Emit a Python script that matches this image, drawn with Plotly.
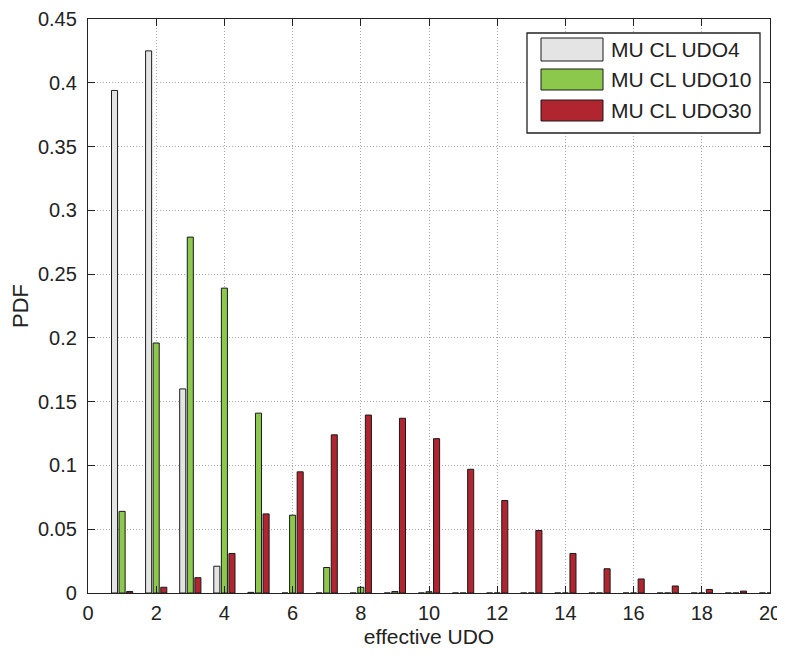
import plotly.graph_objects as go

udo = list(range(1, 21))
series_names = ["MU CL UDO4", "MU CL UDO10", "MU CL UDO30"]
pdf_udo4 = [0.394, 0.425, 0.160, 0.021, 0.0005, 0, 0, 0, 0, 0,
            0, 0, 0, 0, 0, 0, 0, 0, 0, 0]
pdf_udo10 = [0.064, 0.196, 0.279, 0.239, 0.141, 0.061, 0.020, 0.0045, 0.0012, 0.0010,
             0, 0, 0, 0, 0, 0, 0, 0, 0, 0]
pdf_udo30 = [0.0012, 0.0045, 0.012, 0.031, 0.062, 0.095, 0.124, 0.1395, 0.137, 0.121,
             0.097, 0.0725, 0.049, 0.031, 0.019, 0.011, 0.0055, 0.0028, 0.0015, 0.0005]
colors = ["#e4e4e4", "#8cc84b", "#b0252f"]

# page body has an 8px margin, so the figure is sized to fit the 785x660 window
OFF = 8
W, H = 785 - OFF, 660 - OFF
# target plot area in window pixels: x 88..770, y 19..593
L, R, T, B = 88 - OFF, 785 - 770, 19 - OFF, 660 - 593
PW, PH = W - L - R, H - T - B


def px2paper(px, py):
    # window pixel -> paper coordinates
    return (px - OFF - L) / PW, 1 - (py - OFF - T) / PH


fig = go.Figure()
for name, vals, col in zip(series_names, [pdf_udo4, pdf_udo10, pdf_udo30], colors):
    fig.add_trace(go.Bar(x=udo, y=vals, name=name, showlegend=False,
                         marker=dict(color=col, line=dict(color="#1a1a1a", width=1))))

font = "Liberation Sans, Arial, Helvetica, sans-serif"
axis_common = dict(showline=True, linecolor="#222", linewidth=1.3, mirror="ticks",
                   ticks="inside", ticklen=7, tickcolor="#222", automargin=False,
                   showgrid=True, gridcolor="#a8a8a8", griddash="1px,2px", gridwidth=1,
                   zeroline=False, tickfont=dict(size=20, color="#222", family=font))

# legend drawn as a box with swatches and text labels
shapes = []
annotations = []
x0, y0 = px2paper(527, 33)
x1, y1 = px2paper(760, 133)
shapes.append(dict(type="rect", xref="paper", yref="paper", x0=x0, y0=y1, x1=x1, y1=y0,
                   line=dict(color="#222", width=1.3), fillcolor="white", layer="above"))
rows = [(38, 61), (69, 90), (100, 121)]
for (ra, rb), name, col in zip(rows, series_names, colors):
    sx0, sy0 = px2paper(541, ra)
    sx1, sy1 = px2paper(603, rb)
    shapes.append(dict(type="rect", xref="paper", yref="paper", x0=sx0, y0=sy1, x1=sx1, y1=sy0,
                       line=dict(color="#1a1a1a", width=1), fillcolor=col, layer="above"))
    tx, ty = px2paper(609, (ra + rb) / 2)
    annotations.append(dict(xref="paper", yref="paper", x=tx, y=ty, text=name, showarrow=False,
                            xanchor="left", yanchor="middle",
                            font=dict(size=21, color="#222", family=font)))

fig.update_layout(
    width=W, height=H,
    margin=dict(l=L, r=R, t=T, b=B),
    paper_bgcolor="white", plot_bgcolor="white",
    barmode="group", bargap=0.333, bargroupgap=0.2,
    font=dict(family=font, color="#222"),
    showlegend=False,
    shapes=shapes, annotations=annotations,
    xaxis=dict(range=[0, 20], tick0=0, dtick=2, ticklabelstandoff=2,
               title=dict(text="effective UDO", font=dict(size=21, family=font, color="#222"), standoff=6),
               **axis_common),
    yaxis=dict(range=[0, 0.45], tick0=0, dtick=0.05, ticklabelstandoff=6,
               title=dict(text="PDF", font=dict(size=22, family=font, color="#222"), standoff=5),
               **axis_common),
)

fig.write_html("out.html")
